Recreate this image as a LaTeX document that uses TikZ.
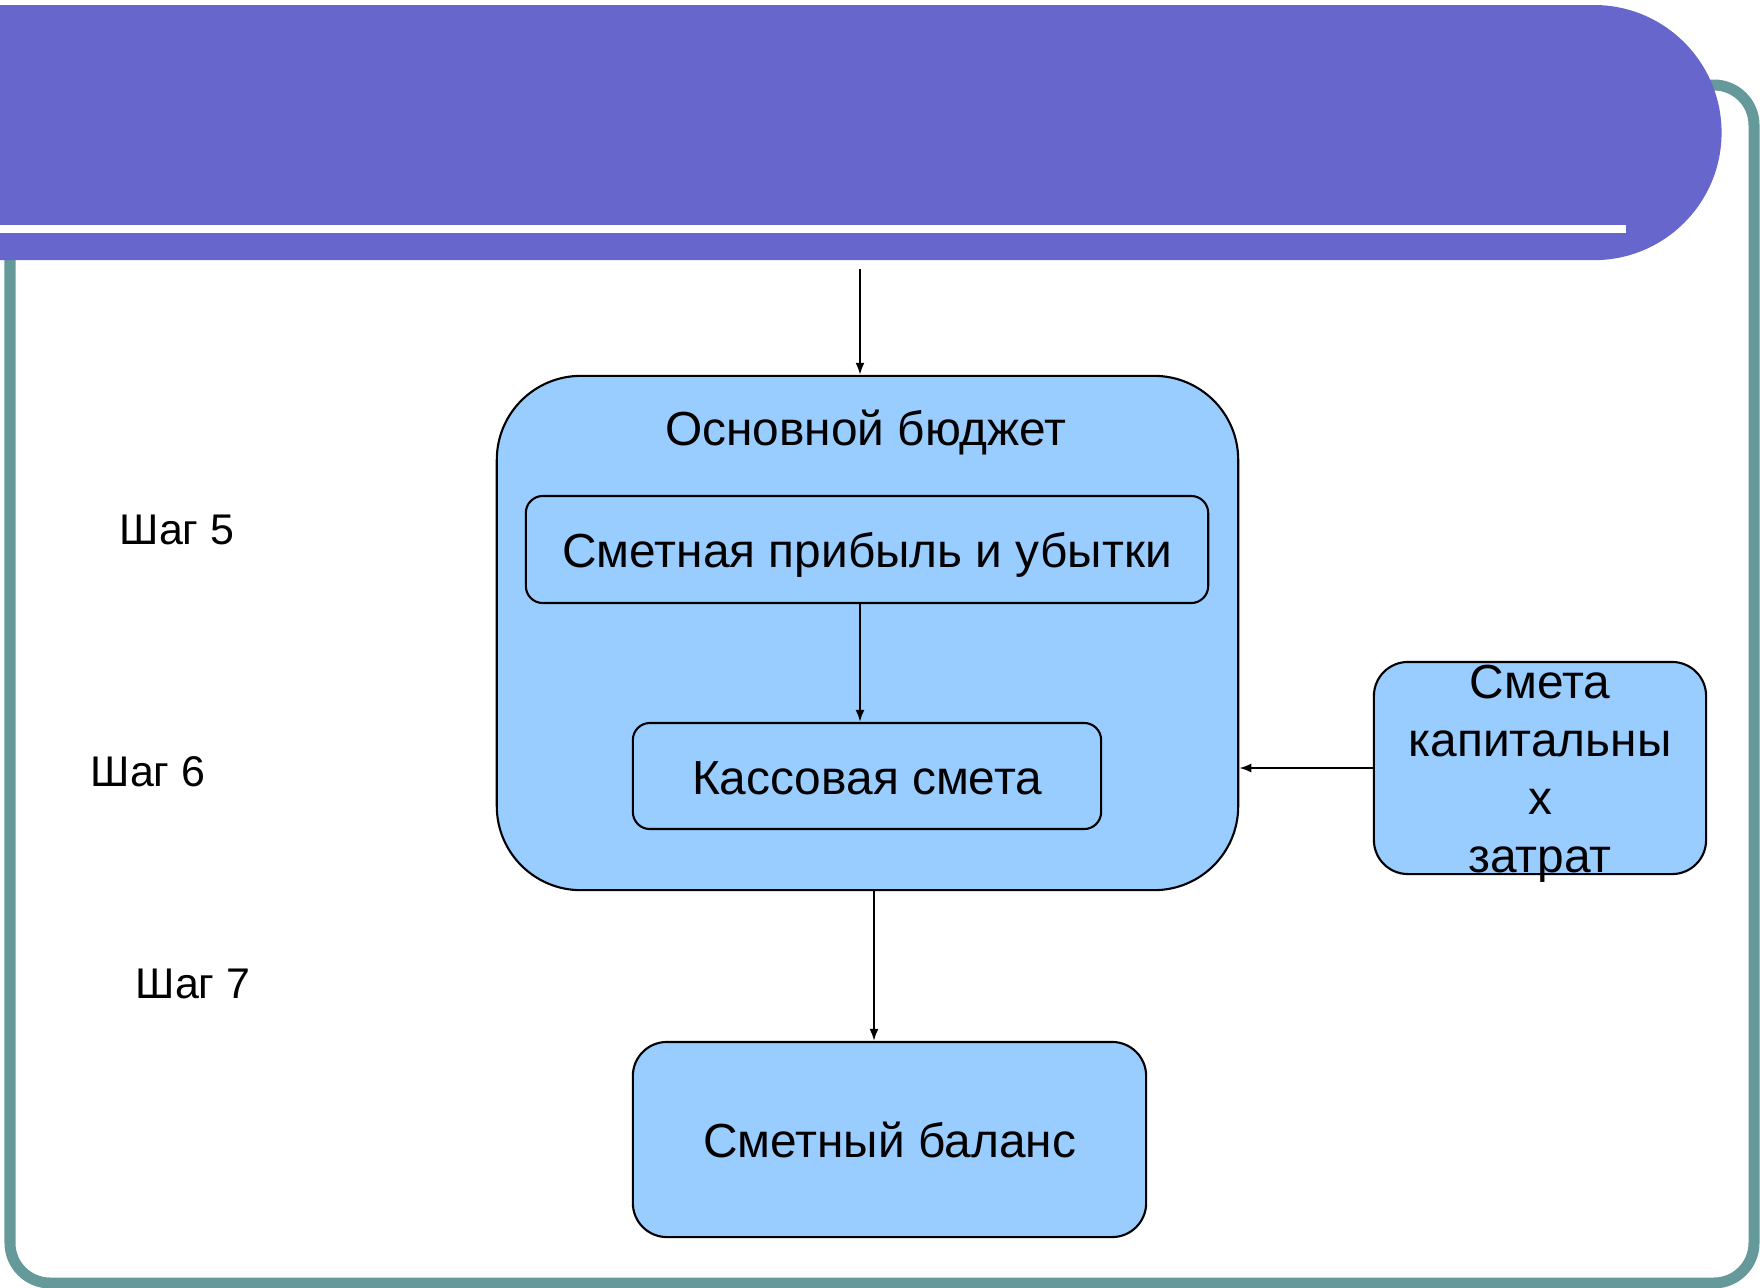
\documentclass[tikz,border=0pt]{standalone}
\usepackage{fontspec}
\setmainfont{Liberation Sans}
\usetikzlibrary{arrows.meta}
\definecolor{bannerblue}{RGB}{102,102,204}
\definecolor{frameteal}{RGB}{102,153,153}
\definecolor{boxblue}{RGB}{153,204,255}
\begin{document}
\begin{tikzpicture}[>={Latex[length=1.2mm,width=0.9mm]},x=0.01cm,y=-0.01cm,
		box/.style={draw=black,line width=0.6pt,fill=boxblue,rounded corners=0.34cm,inner sep=0pt},
		txt/.style={font=\fontsize{13.6}{16.5}\selectfont,inner sep=0pt},
		line/.style={text height=10.4pt,text depth=0pt},
		lbl/.style={font=\fontsize{12.2}{15}\selectfont,inner sep=0pt},
		arr/.style={->,line width=0.6pt}]
			\useasboundingbox (0,0) rectangle (1760,1287);
			% frame and title bar
			\draw[frameteal,line width=0.11cm,rounded corners=0.4cm] (10,85) rectangle (1754,1283);
			\fill[bannerblue] (0,5) -- (1594,5) arc[start angle=90,end angle=-90,radius=1.275cm] -- (0,260) -- cycle;
			\fill[white] (0,225) rectangle (1626,233);
			% boxes
			\node[box,minimum width=7.41cm,minimum height=5.14cm,rounded corners=0.84cm] (main) at (867.5,633) {};
			\node[txt,line] (title) at (866,427) {Основной бюджет};
			\node[box,txt,line,minimum width=6.82cm,minimum height=1.07cm,rounded corners=0.17cm] (pnl) at (867,549.5) {Сметная прибыль и убытки};
			\node[box,txt,line,minimum width=4.68cm,minimum height=1.06cm,rounded corners=0.17cm] (cash) at (867,776) {Кассовая смета};
			\node[box,minimum width=3.32cm,minimum height=2.12cm] (capex) at (1540,768) {};
			\node[txt,align=center] (capextxt) at ([yshift=-0.06cm]capex.center) {Смета\\капитальны\\х\\затрат};
			\node[box,txt,line,minimum width=5.13cm,minimum height=1.95cm] (balance) at (889.5,1139.5) {Сметный баланс};
			\node[lbl] (step5) at (177,530) {Шаг 5};
			\node[lbl] (step6) at (148,772) {Шаг 6};
			\node[lbl] (step7) at (193,984) {Шаг 7};
			% arrows
			\coordinate (src) at (860,269);
			\draw[arr] (src) -- (src |- main.north);
			\draw[arr] (pnl.south -| src) -- (cash.north -| src);
			\draw[arr] (capex.west) -- (capex.west -| main.east);
			\draw[arr] ([xshift=0.065cm]main.south) -- ([xshift=0.065cm]main.south |- balance.north);
		\end{tikzpicture}
\end{document}
